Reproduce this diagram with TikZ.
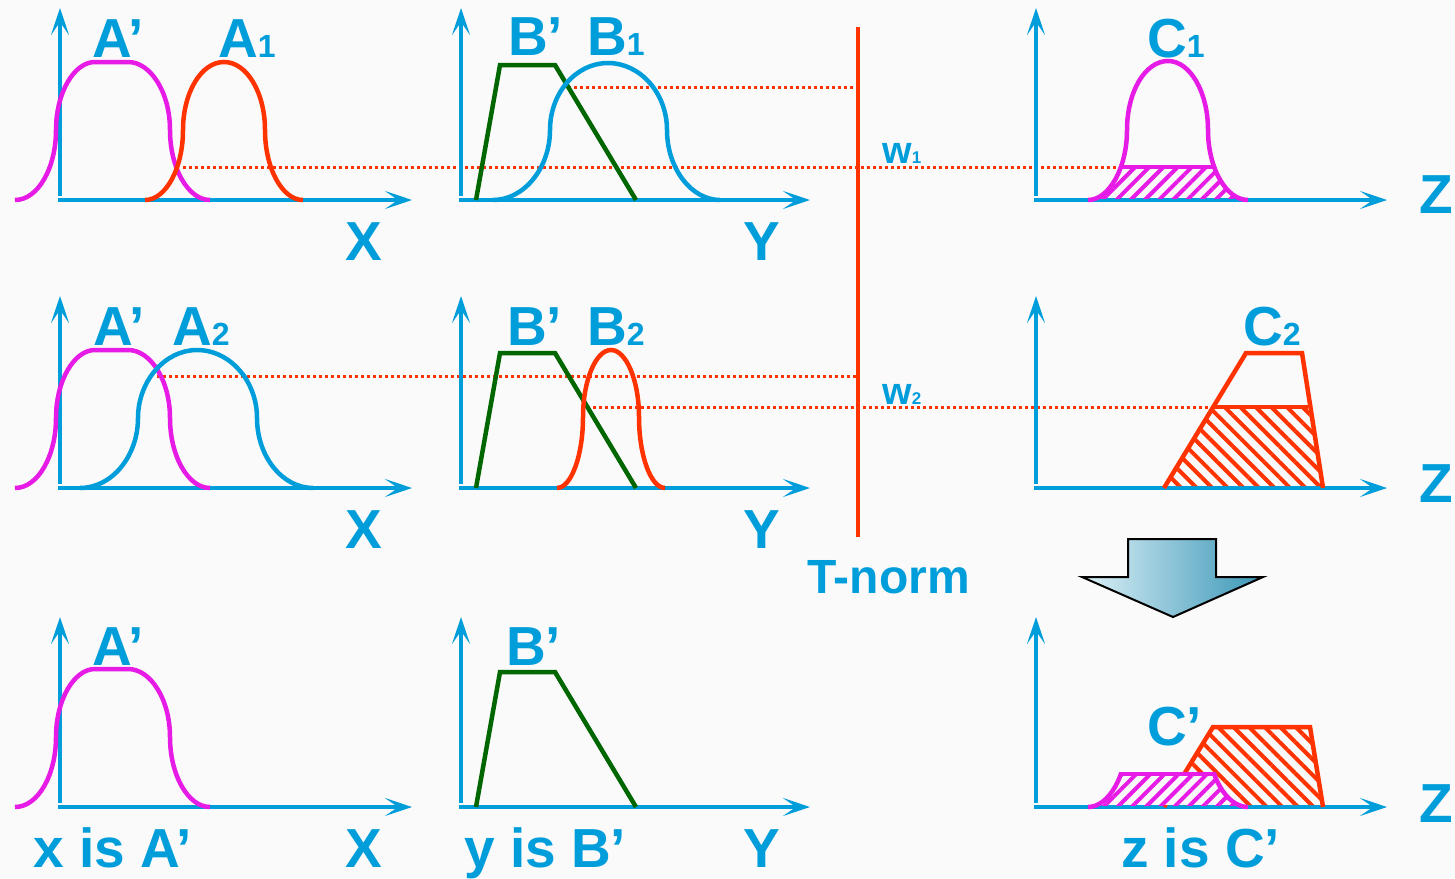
\documentclass[tikz,border=0pt]{standalone}
\usepackage{fontspec}
\setmainfont{Liberation Sans}
\usetikzlibrary{arrows.meta,patterns.meta}
\definecolor{axblue}{HTML}{009DDB}
\definecolor{fmag}{HTML}{E61BE6}
\definecolor{fred}{HTML}{FF3300}
\definecolor{fgreen}{HTML}{006600}
\definecolor{bgcol}{HTML}{FAFAFA}
\definecolor{arrlight}{HTML}{DDF1F7}
\definecolor{arrdark}{HTML}{3A96B6}
\newcommand{\subsz}{\fontsize{32}{32}\selectfont}

\begin{document}
\begin{tikzpicture}[
  x=1pt, y=-1pt,
  axis/.style={draw=axblue, line width=4pt, -{Stealth[length=27pt,width=18pt,inset=13pt]}},
  mf/.style={line width=4.5pt},
  lbl/.style={text=axblue, font=\bfseries\fontsize{55}{60}\selectfont, inner sep=0pt, anchor=base west},
  wlbl/.style={text=axblue, font=\bfseries\fontsize{38}{42}\selectfont, inner sep=0pt, anchor=base west},
  lvl/.style={draw=fred, line width=3pt, dash pattern=on 3pt off 3pt},
  hatchm/.style={pattern={Lines[angle=45,distance=10pt,line width=4pt]}, pattern color=fmag},
  hatchr/.style={pattern={Lines[angle=-45,distance=11pt,line width=4pt]}, pattern color=fred}
]
\useasboundingbox (0,0) rectangle (1455,878);
\fill[bgcol] (0,0) rectangle (1455,878);

% t-norm bar
\coordinate (tn-top) at (858,27);
\coordinate (tn-bot) at (858,537);
\draw[fred, line width=4.5pt] (tn-top) -- (tn-bot);
\node[lbl, font=\bfseries\fontsize{48}{54}\selectfont] (tnorm) at (807,593) {T-norm};

% firing levels
\draw[lvl] (568,87) -- (tn-top |- 0,87);
\draw[lvl] (183,167) -- (1121,167);
\draw[lvl] (157,376) -- (tn-top |- 0,376);
\draw[lvl] (587,407) -- (1213,407);
\node[wlbl] (w1) at (882,163) {w{\fontsize{17}{17}\selectfont 1}};
\node[wlbl] (w2) at (882,404) {w{\fontsize{17}{17}\selectfont 2}};

% axes
\foreach \b/\t [count=\r] in {200/8, 488/296, 807/617} {
  \foreach \o/\e/\n in {60/412/a, 461/810/b, 1036/1387/c} {
    \coordinate (o-\n\r) at (\o,\b);
    \draw[axis] (\o,\b-4) -- (\o,\t);
    \draw[axis] (\o-2,\b) -- (\e,\b);
  }
}
\foreach \b/\zb [count=\r] in {260/213, 548/502, 867/822} {
  \node[lbl] (xl\r) at (345,\b) {X};
  \node[lbl] (yl\r) at (743,\b) {Y};
  \node[lbl] (zl\r) at (1419,\zb) {Z};
}

% A' and B' in every row
\foreach \dy in {0,288,607} {
  \draw[fmag, mf, shift={(0,\dy)}] (15,200) .. controls +(23,0) and +(0,38) .. (56,130)
    .. controls +(0,-37) and +(-21,0) .. (95,62) -- (128,62)
    .. controls +(23,0) and +(0,-37) .. (170,130)
    .. controls +(0,38) and +(-22,0) .. (210,200);
  \draw[fgreen, mf, shift={(0,\dy)}] (476,200) -- (500,65) -- (555,65) -- (636,200);
}

% rule 1
\draw[fred, mf] (145,200) .. controls +(21,0) and +(0,38) .. (183,130)
  .. controls +(0,-37) and +(-23,0) .. (224,62)
  .. controls +(23,0) and +(0,-37) .. (265,130)
  .. controls +(0,38) and +(-21,0) .. (303,200);
\draw[axblue, mf] (493,200) .. controls +(31,0) and +(0,38) .. (550,130)
  .. controls +(0,-37) and +(-32,0) .. (608,63)
  .. controls +(32,0) and +(0,-37) .. (667,130)
  .. controls +(0,38) and +(-29,0) .. (720,200);
\begin{scope}
  \clip (1088,200) .. controls +(21,0) and +(0,38) .. (1127,130)
    .. controls +(0,-38) and +(-23,0) .. (1168,61)
    .. controls +(22,0) and +(0,-38) .. (1208,130)
    .. controls +(0,38) and +(-22,0) .. (1248,200) -- cycle;
  \fill[hatchm] (1030,167) rectangle (1260,198);
  \draw[fmag, line width=4pt] (1030,167) -- (1260,167);
\end{scope}
\draw[fmag, mf] (1088,200) .. controls +(21,0) and +(0,38) .. (1127,130)
  .. controls +(0,-38) and +(-23,0) .. (1168,61)
  .. controls +(22,0) and +(0,-38) .. (1208,130)
  .. controls +(0,38) and +(-22,0) .. (1248,200);

% rule 2
\draw[axblue, mf] (80,488) .. controls +(32,0) and +(0,38) .. (138,418)
  .. controls +(0,-37) and +(-32,0) .. (197,350)
  .. controls +(33,0) and +(0,-37) .. (257,418)
  .. controls +(0,38) and +(-31,0) .. (313,488);
\draw[fred, mf] (557,488) .. controls +(14,0) and +(0,39) .. (583,417)
  .. controls +(0,-37) and +(-15,0) .. (611,350)
  .. controls +(15,0) and +(0,-37) .. (639,417)
  .. controls +(0,39) and +(-14,0) .. (665,488);
\fill[hatchr] (1164,486) -- (1213,407) -- (1308,407) -- (1323,486) -- cycle;
\draw[fred, line width=4pt] (1213,407) -- (1308,407);
\draw[fred, mf] (1164,488) -- (1246,353) -- (1302,353) -- (1323,488);

% aggregated output
\fill[hatchr] (1164,805) -- (1213,727) -- (1310,727) -- (1323,805) -- cycle;
\draw[fred, mf] (1164,807) -- (1213,727) -- (1310,727) -- (1323,807);
\begin{scope}
  \clip (1088,807) .. controls +(21,0) and +(0,38) .. (1127,737)
    .. controls +(0,-38) and +(-23,0) .. (1168,668)
    .. controls +(22,0) and +(0,-38) .. (1208,737)
    .. controls +(0,38) and +(-22,0) .. (1248,807) -- cycle;
  \fill[bgcol] (1030,774) rectangle (1260,805);
  \fill[hatchm] (1030,774) rectangle (1260,805);
  \draw[fmag, line width=4pt] (1030,774) -- (1260,774);
\end{scope}
\begin{scope}
  \clip (1030,772) rectangle (1300,815);
  \draw[fmag, mf] (1088,807) .. controls +(21,0) and +(0,38) .. (1127,737)
    .. controls +(0,-38) and +(-23,0) .. (1168,668)
    .. controls +(22,0) and +(0,-38) .. (1208,737)
    .. controls +(0,38) and +(-22,0) .. (1248,807);
\end{scope}

% down arrow
\draw[black, line width=2pt, left color=arrlight, right color=arrdark]
  (1128,539) -- (1216,539) -- (1216,577) -- (1263,577) -- (1173,617)
  -- (1082,577) -- (1128,577) -- cycle;

% set labels
\node[lbl] (ap1) at (92,57) {A’};
\node[lbl] (a1) at (218,57) {A{\subsz 1}};
\node[lbl] (bp1) at (508,55) {B’};
\node[lbl] (b1) at (587,55) {B{\subsz 1}};
\node[lbl] (c1) at (1147,57) {C{\subsz 1}};
\node[lbl] (ap2) at (93,345) {A’};
\node[lbl] (a2) at (172,345) {A{\subsz 2}};
\node[lbl] (bp2) at (507,345) {B’};
\node[lbl] (b2) at (587,345) {B{\subsz 2}};
\node[lbl] (c2) at (1243,345) {C{\subsz 2}};
\node[lbl] (ap3) at (92,665) {A’};
\node[lbl] (bp3) at (506,665) {B’};
\node[lbl] (cp) at (1147,745) {C’};
\node[lbl] (xin) at (33,867) {x is A’};
\node[lbl] (yin) at (464,867) {y is B’};
\node[lbl] (zout) at (1121,867) {z is C’};

\end{tikzpicture}
\end{document}
